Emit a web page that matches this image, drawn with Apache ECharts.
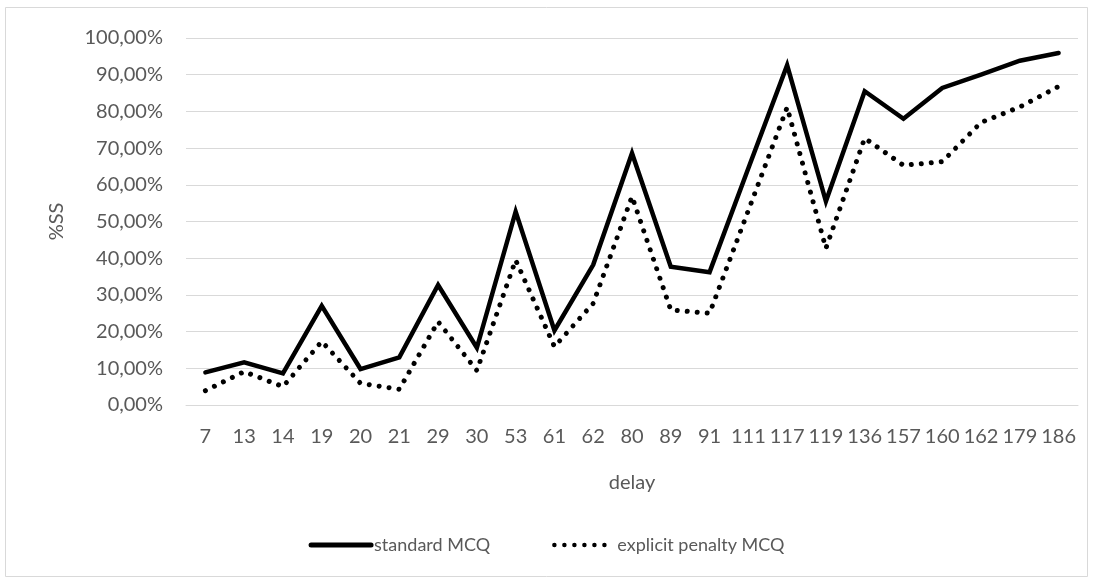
<!DOCTYPE html>
<html>
<head>
<meta charset="utf-8">
<script src="https://cdn.jsdelivr.net/npm/echarts@6/dist/echarts.min.js"></script>
<style>
html,body{margin:0;padding:0;background:#fff;}
#chart{width:1093px;height:581px;}
</style>
</head>
<body>
<div id="chart"></div>
<script>
const categories = ['7','13','14','19','20','21','29','30','53','61','62','80','89','91','111','117','119','136','157','160','162','179','186'];
const standardMCQ = [8.9, 11.6, 8.6, 27.0, 9.8, 13.0, 32.7, 15.6, 52.7, 20.3, 38.2, 68.6, 37.7, 36.2, 64.5, 92.6, 55.5, 85.5, 78.0, 86.4, 90.0, 93.8, 95.9];
const explicitPenaltyMCQ = [3.9, 9.1, 5.0, 17.3, 5.9, 4.3, 22.7, 9.4, 39.5, 15.9, 27.7, 56.8, 25.9, 25.0, 53.0, 81.1, 42.7, 72.7, 65.3, 66.3, 77.0, 81.2, 86.8];
const seriesNames = ['standard MCQ', 'explicit penalty MCQ'];

const FONT = 'Lato, "Open Sans", sans-serif';
const TXT = '#595959';
const chart = echarts.init(document.getElementById('chart'), null, {renderer: 'canvas'});
chart.setOption({
  animation: false,
  backgroundColor: '#ffffff',
  graphic: [{
    type: 'rect',
    shape: {x: 5.5, y: 7.5, width: 1082, height: 569},
    style: {fill: 'none', stroke: '#d9d9d9', lineWidth: 1},
    silent: true
  }],
  grid: {left: 186, right: 15, top: 38, bottom: 176, containLabel: false},
  xAxis: {
    type: 'category',
    data: categories,
    boundaryGap: true,
    name: 'delay',
    nameLocation: 'middle',
    nameGap: 68,
    nameTextStyle: {fontFamily: FONT, fontSize: 20, color: TXT},
    axisLine: {show: true, lineStyle: {color: '#d9d9d9', width: 1}},
    axisTick: {show: false},
    axisLabel: {interval: 0, margin: 22, fontFamily: FONT, fontSize: 20, color: TXT}
  },
  yAxis: {
    type: 'value',
    min: 0, max: 100, interval: 10,
    name: '%SS',
    nameLocation: 'middle',
    nameGap: 119,
    nameRotate: 90,
    nameTextStyle: {fontFamily: FONT, fontSize: 20, color: TXT},
    axisLine: {show: false},
    axisTick: {show: false},
    splitLine: {lineStyle: {color: '#d9d9d9', width: 1}},
    axisLabel: {
      margin: 23,
      fontFamily: FONT, fontSize: 20, color: TXT,
      formatter: v => v.toFixed(2).replace('.', ',') + '%'
    }
  },
  legend: {
    bottom: 22,
    left: 'center',
    itemWidth: 60,
    itemHeight: 14,
    itemGap: 62,
    textStyle: {fontFamily: FONT, fontSize: 18, color: TXT, padding: [0, 0, 0, -2]},
    itemStyle: {opacity: 0},
    data: [
      {name: seriesNames[0], lineStyle: {color: '#000', width: 5, type: 'solid'}},
      {name: seriesNames[1], lineStyle: {color: '#000', width: 4.5, type: [0.01, 10], cap: 'round'}}
    ]
  },
  series: [{
    name: seriesNames[0],
    type: 'line',
    data: standardMCQ,
    symbol: 'none',
    lineStyle: {color: '#000', width: 4.5, cap: 'round', join: 'miter'},
    itemStyle: {color: '#000'}
  }, {
    name: seriesNames[1],
    type: 'line',
    data: explicitPenaltyMCQ,
    symbol: 'none',
    lineStyle: {color: '#000', width: 5, type: [0.01, 10], cap: 'round'},
    itemStyle: {color: '#000'}
  }]
});
</script>
</body>
</html>
